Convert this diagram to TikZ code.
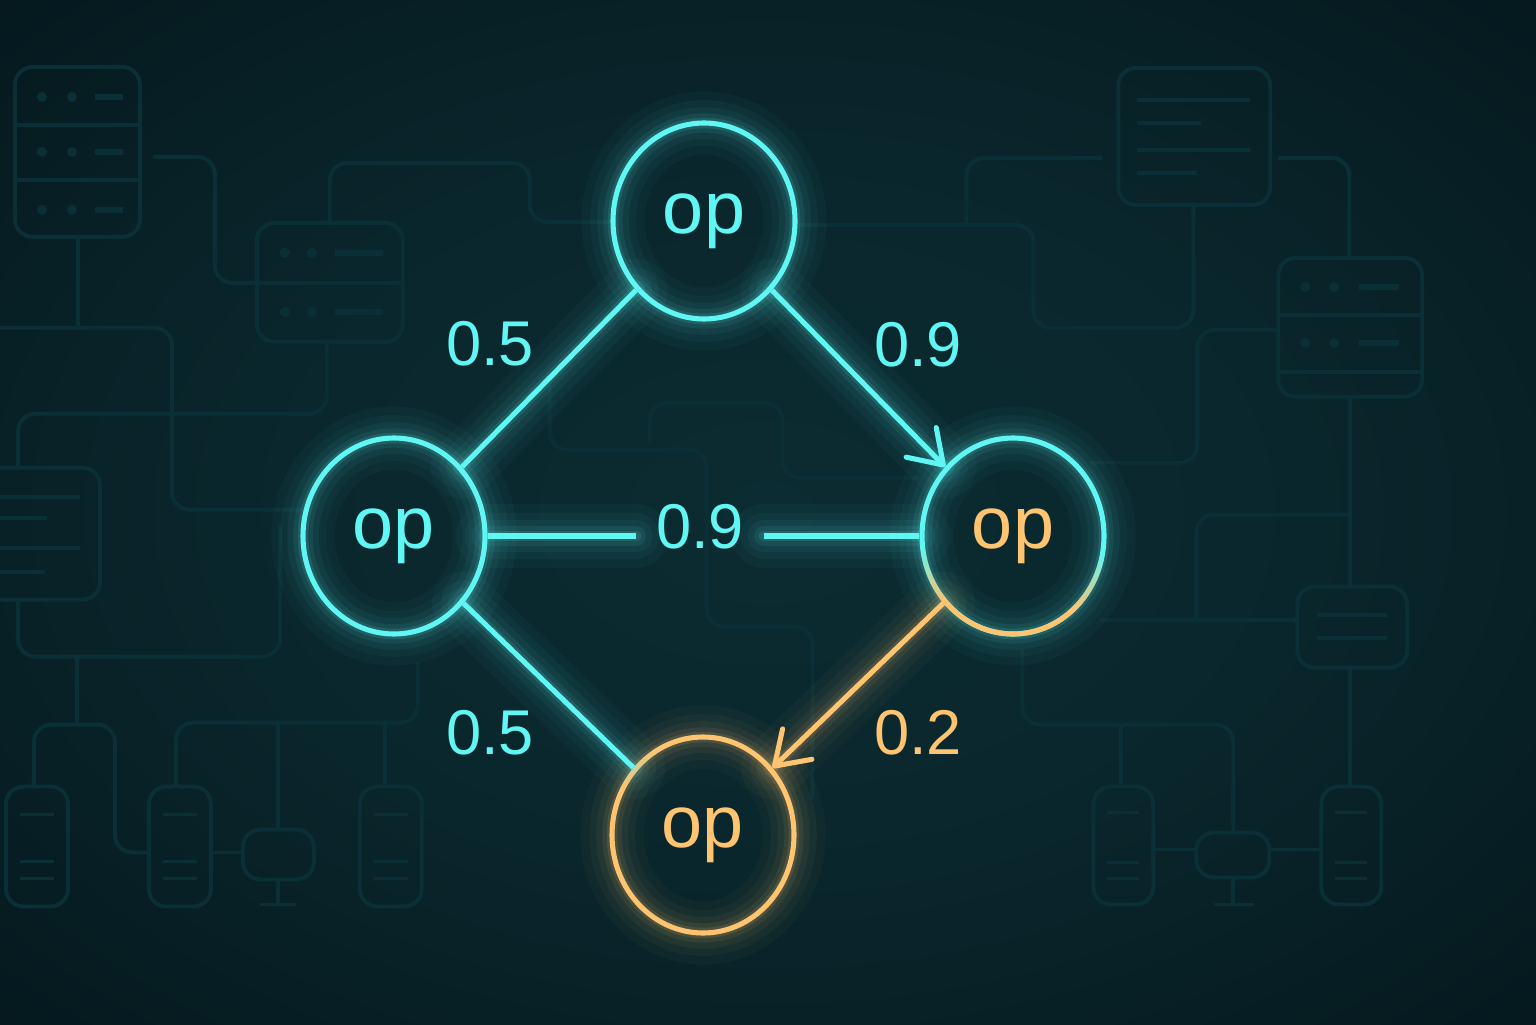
\documentclass[tikz,border=0pt]{standalone}
\usepackage{fontspec}
\setmainfont{Liberation Sans}
\usetikzlibrary{arrows.meta,shapes.geometric}

\definecolor{neonC}{RGB}{96,246,244}
\definecolor{neonO}{RGB}{255,196,112}
\definecolor{bgin}{RGB}{11,44,50}
\definecolor{bgout}{RGB}{1,14,19}
\definecolor{wirec}{RGB}{11,47,54}

\pgfdeclareradialshading{bgglow}{\pgfpoint{0bp}{0bp}}{color(0bp)=(bgin); color(18bp)=(bgin!80!bgout); color(50bp)=(bgout); color(72bp)=(bgout)}

\tikzset{
  glow/.style={preaction={draw=#1,-,line cap=round,draw opacity=.03,line width=18pt},
               preaction={draw=#1,-,line cap=round,draw opacity=.04,line width=13pt},
               preaction={draw=#1,-,line cap=round,draw opacity=.05,line width=9pt},
               preaction={draw=#1,-,line cap=round,draw opacity=.08,line width=5.5pt},
               preaction={draw=#1,-,line cap=round,draw opacity=.12,line width=3pt}},
  opnode/.style={ellipse,draw=#1,line width=1.45pt,inner sep=0pt,
                 minimum width=1.82cm,minimum height=1.96cm,
                 text=#1,font=\fontsize{21}{24}\selectfont,glow=#1},
  wlabel/.style={text=#1,font=\fontsize{18}{20}\selectfont},
  cedge/.style={draw=#1,line width=1.45pt,glow=#1},
  wire/.style={draw=wirec,line width=1.1pt,rounded corners=5pt},
}

\begin{document}
\begin{tikzpicture}[>={Straight Barb[length=9pt,width=12pt,round]}]
            \useasboundingbox (0,0) rectangle (15.36,10.24);
            \fill[shading=bgglow] (0,0) rectangle (15.36,10.24);

            %%%%%%%%%%%%%%%%%%%%%%%%%%%%%%%%%%%
            % background wiring, in pixels from the top left
            \begin{scope}[shift={(0,10.24)},x=0.01cm,y=-0.01cm]
                % left: racks
                \draw[wire] (15,67) rectangle (140,237);
                \draw[wire] (15,125) -- (140,125) (15,180) -- (140,180);
                \draw[wire] (257,223) rectangle (403,342);
                \draw[wire] (257,283) -- (403,283);
                \foreach \y in {97,152,210} {
                    \fill[wirec] (42,\y) circle (5) (72,\y) circle (5);
                    \draw[wirec,line width=1.6pt] (95,\y) -- (123,\y);
                }
                \foreach \y in {253,312} {
                    \fill[wirec] (285,\y) circle (5) (312,\y) circle (5);
                    \draw[wirec,line width=1.6pt] (335,\y) -- (383,\y);
                }
                \draw[wire] (78,237) -- (78,328);
                \draw[wire] (0,328) -- (172,328) -- (172,510) -- (310,510);
                \draw[wire] (153,157) -- (215,157) -- (215,283) -- (257,283);
                \draw[wire] (330,223) -- (330,163) -- (530,163) -- (530,222) -- (613,222);
                \draw[wire] (327,342) -- (327,414) -- (18,414) -- (18,468);

                % left: document
                \draw[wire] (0,468) -- (100,468) -- (100,600) -- (0,600);
                \draw[wire] (0,497) -- (80,497) (0,518) -- (47,518)
                            (0,548) -- (80,548) (0,572) -- (45,572);
                \draw[wire] (18,600) -- (18,657) -- (280,657) -- (280,525);

                % left: towers and monitor
                \draw[wire] (77,657) -- (77,723);
                \draw[wire] (34,787) -- (34,725) -- (115,725) -- (115,853) -- (149,853);
                \draw[wire] (176,787) -- (176,723) -- (418,723) -- (418,662);
                \draw[wire] (385,723) -- (385,787);
                \draw[wire] (278,723) -- (278,830);
                \draw[wire] (209,853) -- (243,853);
                \foreach \x in {6,149,360} {
                    \draw[wire] (\x,787) rectangle ++(62,120);
                    \draw[wire] (\x+14,815) -- ++(34,0) (\x+14,862) -- ++(34,0)
                                (\x+14,879) -- ++(34,0);
                }
                \draw[wire] (243,830) rectangle (314,880);
                \draw[wire] (278,880) -- (278,905) (260,905) -- (296,905);

                % centre
                \draw[wire] (550,383) -- (550,450) -- (707,450) -- (707,627)
                            -- (813,627) -- (813,800);
                \draw[wire] (650,442) -- (650,403) -- (783,403) -- (783,478) -- (923,478);

                % right: document and rack
                \draw[wire] (1119,68) rectangle (1271,205);
                \draw[wire] (1138,100) -- (1251,100) (1138,123) -- (1202,123)
                            (1138,150) -- (1251,150) (1138,173) -- (1198,173);
                \draw[wire] (1103,158) -- (967,158) -- (967,225);
                \draw[wire] (797,225) -- (1034,225) -- (1034,328) -- (1194,328) -- (1194,205);
                \draw[wire] (1279,158) -- (1350,158) -- (1350,258);
                \draw[wire] (1279,258) rectangle (1423,397);
                \draw[wire] (1279,315) -- (1423,315) (1279,372) -- (1423,372);
                \foreach \y in {287,343} {
                    \fill[wirec] (1306,\y) circle (5) (1335,\y) circle (5);
                    \draw[wirec,line width=1.6pt] (1360,\y) -- (1400,\y);
                }
                \draw[wire] (1279,330) -- (1198,330) -- (1198,463) -- (1090,463);
                \draw[wire] (1351,397) -- (1351,587);
                \draw[wire] (1351,515) -- (1197,515) -- (1197,620);
                \draw[wire] (1100,620) -- (1298,620);
                \draw[wire] (1298,587) rectangle (1408,668);
                \draw[wire] (1318,615) -- (1388,615) (1318,638) -- (1388,638);
                \draw[wire] (1351,668) -- (1351,787);

                % right: towers and monitor
                \draw[wire] (1023,650) -- (1023,725) -- (1234,725) -- (1234,833);
                \draw[wire] (1122,725) -- (1122,787);
                \foreach \x in {1094,1322} {
                    \draw[wire] (\x,787) rectangle ++(60,118);
                    \draw[wire] (\x+14,813) -- ++(32,0) (\x+14,863) -- ++(32,0)
                                (\x+14,879) -- ++(32,0);
                }
                \draw[wire] (1197,833) rectangle (1270,878);
                \draw[wire] (1234,878) -- (1234,905) (1215,905) -- (1255,905);
                \draw[wire] (1154,850) -- (1197,850) (1270,850) -- (1322,850);
            \end{scope}
            %%%%%%%%%%%%%%%%%%%%%%%%%%%%%%%%%%%

            \node[opnode=neonC] (1) at (7.04, 8.03) {op};
            \node[opnode=neonC] (2) at (3.94, 4.88) {op};
            \node[opnode=neonC,text=neonO] (3) at (10.13, 4.88) {op};
            \node[opnode=neonO] (4) at (7.03, 1.89) {op};

            % orange lower rim of 3, fading into cyan
            \draw[neonO,line width=1.45pt] (3.center) ++(220:0.91 and 0.98)
                arc[start angle=220,end angle=315,x radius=0.91,y radius=0.98];
            \foreach \i in {0,...,7} {
                \pgfmathsetmacro\op{(\i+1)/9}
                \draw[neonO,line width=1.45pt,draw opacity=\op] (3.center) ++(188+4*\i:0.91 and 0.98)
                    arc[start angle=188+4*\i,delta angle=4.2,x radius=0.91,y radius=0.98];
                \draw[neonO,line width=1.45pt,draw opacity=\op] (3.center) ++(343-4*\i:0.91 and 0.98)
                    arc[start angle=343-4*\i,delta angle=4.2,x radius=0.91,y radius=0.98];
            }

            %%%%%%%%%%%%%%%%%%%%%%%%%%%%%%%%%%%
            % weights
            \node[wlabel=neonC] (w12) at (4.90, 6.80) {0.5};
            \node[wlabel=neonC] (w13) at (9.18, 6.79) {0.9};
            \node[wlabel=neonC,inner xsep=0.19cm] (w23) at (7.00, 4.97) {0.9};
            \node[wlabel=neonC] (w24) at (4.90, 2.91) {0.5};
            \node[wlabel=neonO] (w34) at (9.18, 2.91) {0.2};

            \draw[cedge=neonC] (2) -- (1);
            \draw[cedge=neonC,->] (1) -- (3);
            \draw[cedge=neonC] (2) -- (w23.west |- 2);
            \draw[cedge=neonC] (w23.east |- 3) -- (3);
            \draw[cedge=neonC] (2) -- (4);
            \draw[cedge=neonO,->] (3) -- (4);
            %%%%%%%%%%%%%%%%%%%%%%%%%%%%%%%%%%%

        \end{tikzpicture}
\end{document}
